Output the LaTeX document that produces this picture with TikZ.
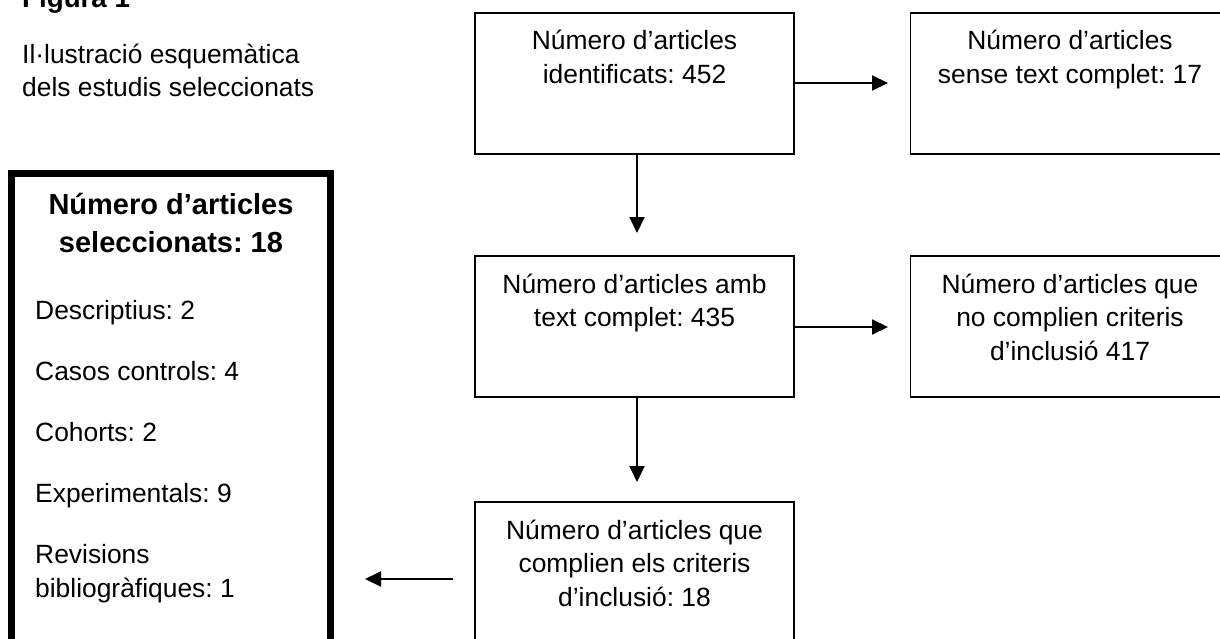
\documentclass[tikz,border=0pt]{standalone}
\usepackage{fontspec}
\setmainfont{Liberation Sans}
\usetikzlibrary{arrows.meta}
\frenchspacing
\begin{document}
\begin{tikzpicture}[x=1pt,y=-1pt,
  box/.style={draw,line width=1.6pt,minimum width=319pt,minimum height=141pt,inner sep=0pt},
  txt/.style={font=\fontsize{26.4}{33.5}\selectfont,align=center,anchor=base,inner sep=0pt},
  arr/.style={line width=2pt,-{Triangle[length=16pt,width=15pt]}}]
\useasboundingbox (0,0) rectangle (1220,639);
\clip (0,0) rectangle (1220,639);
% title
\node[font=\fontsize{27.7}{34}\selectfont\bfseries,anchor=base west,inner sep=0pt] (title) at (22,8) {Figura 1};
\node[txt,align=left,anchor=base west] (sub) at (22,97) {Il·lustració esquemàtica\\dels estudis seleccionats};
% boxes
\node[box] (b1) at (634.5,83.5) {};
\node[box] (b2) at (1070,83.5) {};
\node[box] (b3) at (634.5,326.5) {};
\node[box] (b4) at (1070,326.5) {};
\node[box] (b5) at (634.5,572.5) {};
\node[txt] (t1) at (634.5,83.5) {Número d’articles\\identificats: 452};
\node[txt] (t2) at (1070,83.5) {Número d’articles\\sense text complet: 17};
\node[txt] (t3) at (634.5,326.5) {Número d’articles amb\\text complet: 435};
\node[txt] (t4) at (1070,360) {Número d’articles que\\no complien criteris\\d’inclusió 417};
\node[txt] (t5) at (634.5,606) {Número d’articles que\\complien els criteris\\d’inclusió: 18};
% left box
\node[draw,line width=7pt,minimum width=319pt,minimum height=480pt,inner sep=0pt] (L) at (171,413.5) {};
\node[txt,font=\fontsize{29}{37.5}\selectfont\bfseries] (Lh) at (171,252) {Número d’articles\\seleccionats: 18};
\node[txt,align=left,anchor=base west] (Li) at (35,597) {Descriptius: 2\\[27.5pt]Casos controls: 4\\[27.5pt]Cohorts: 2\\[27.5pt]Experimentals: 9\\[27.5pt]Revisions\\bibliogràfiques: 1};
% connectors
\coordinate (a1) at (637,233);
\coordinate (a2) at (637,482);
\coordinate (h1) at (888,83);
\coordinate (h2) at (888,327);
\coordinate (l1) at (453,579);
\coordinate (l2) at (365,579);
\draw[arr] (b1.south -| a1) -- (a1);
\draw[arr] (b3.south -| a2) -- (a2);
\draw[arr] (b1.east |- h1) -- (h1);
\draw[arr] (b3.east |- h2) -- (h2);
\draw[arr] (l1) -- (l2);
\end{tikzpicture}
\end{document}
